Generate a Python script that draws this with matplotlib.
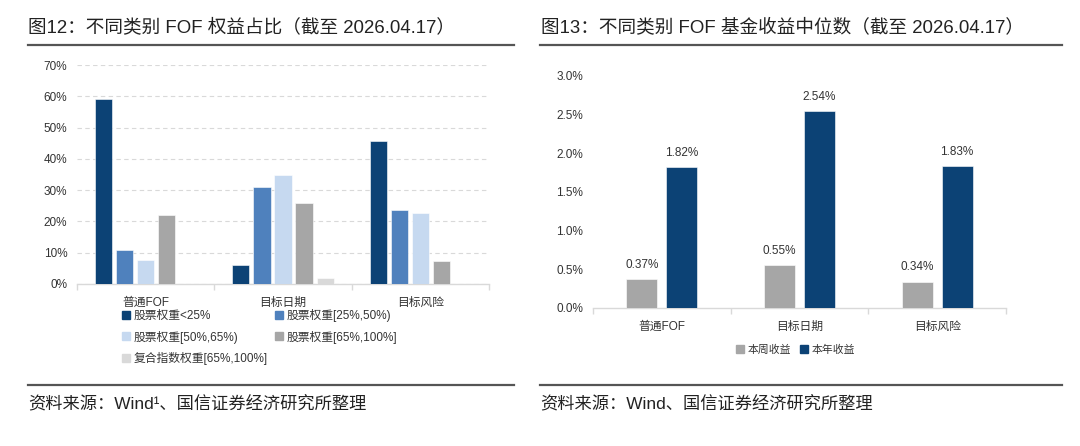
import matplotlib
matplotlib.use("Agg")
import matplotlib.pyplot as plt
from matplotlib.lines import Line2D
from matplotlib.ticker import FuncFormatter
import numpy as np

plt.rcParams['font.family'] = ['Liberation Sans', 'Noto Sans CJK SC', 'DejaVu Sans']

# ---------------- data ----------------
categories = ['普通FOF', '目标日期', '目标风险']

series_left_names = ['股票权重<25%', '股票权重[25%,50%)', '股票权重[50%,65%)',
                     '股票权重[65%,100%]', '复合指数权重[65%,100%]']
equity_lt25 = [59.1, 6.2, 45.8]
equity_25_50 = [10.8, 31.0, 23.5]
equity_50_65 = [7.8, 35.0, 22.8]
equity_65_100 = [22.0, 26.0, 7.3]
index_65_100 = [0.0, 2.0, 0.0]
left_series = [equity_lt25, equity_25_50, equity_50_65, equity_65_100, index_65_100]

right_names = ['本周收益', '本年收益']
week_ret = [0.37, 0.55, 0.34]
year_ret = [1.82, 2.54, 1.83]

left_yticks = [0, 10, 20, 30, 40, 50, 60, 70]
right_yticks = [0.0, 0.5, 1.0, 1.5, 2.0, 2.5, 3.0]

title_left = '图12：不同类别 FOF 权益占比（截至 2026.04.17）'
title_right = '图13：不同类别 FOF 基金收益中位数（截至 2026.04.17）'
source_left = '资料来源：Wind¹、国信证券经济研究所整理'
source_right = '资料来源：Wind、国信证券经济研究所整理'

# ---------------- style ----------------
W, H = 1080, 446
fig = plt.figure(figsize=(W / 100, H / 100), dpi=100)
fig.patch.set_facecolor('white')

left_colors = ['#0c4275', '#4f81bd', '#c6d9f0', '#a6a6a6', '#d9d9d9']
right_colors = ['#a6a6a6', '#0c4275']
axis_gray = '#d9d9d9'
text_col = '#333333'

def px_axes(x0, y0, x1, y1):
    return fig.add_axes([x0 / W, 1 - y1 / H, (x1 - x0) / W, (y1 - y0) / H])

def style_x(ax, n, ypad):
    for s in ['top', 'right', 'left']:
        ax.spines[s].set_visible(False)
    ax.spines['bottom'].set_color(axis_gray)
    ax.spines['bottom'].set_linewidth(1.0)
    ax.set_xlim(-0.5, n - 0.5)
    ax.set_xticks(range(n))
    ax.set_xticks(np.arange(-0.5, n, 1.0), minor=True)
    ax.tick_params(axis='x', which='major', length=0, pad=9, labelsize=8.5, labelcolor=text_col)
    ax.tick_params(axis='x', which='minor', length=4, color=axis_gray, width=1.0)
    ax.tick_params(axis='y', length=0, labelsize=8.5, labelcolor=text_col, pad=ypad)

# ---------------- left chart ----------------
axL = px_axes(77, 65, 489, 284)
n = len(categories)
x = np.arange(n)
bw = 0.124
step = 0.153
for i, (vals, col) in enumerate(zip(left_series, left_colors)):
    axL.bar(x + (i - 2) * step, vals, width=bw, color=col, edgecolor='white',
            linewidth=0.4, zorder=3, label=series_left_names[i])
axL.set_ylim(0, 70)
axL.set_yticks(left_yticks)
axL.yaxis.set_major_formatter(FuncFormatter(lambda v, p: f'{v:.0f}%'))
axL.grid(axis='y', color=axis_gray, linestyle=(0, (4, 3)), linewidth=0.8, zorder=0)
axL.set_axisbelow(True)
style_x(axL, n, 7)
axL.set_xticklabels(categories)

handles = [Line2D([], [], marker='s', linestyle='none', markersize=5.5,
                  color=c) for c in left_colors]
order = [0, 2, 4, 1, 3]
legL = axL.legend([handles[k] for k in order], [series_left_names[k] for k in order],
                  ncol=2, frameon=False, loc='upper left',
                  bbox_to_anchor=(121 / W, 1 - 309 / H), bbox_transform=fig.transFigure,
                  fontsize=8.5, handlelength=0.8, handletextpad=0.3, columnspacing=0.5,
                  labelspacing=0.72, borderaxespad=0, borderpad=0)
for t in legL.get_texts():
    t.set_color(text_col)

# ---------------- right chart ----------------
axR = px_axes(593, 75.7, 1006, 308)
rbw = 0.225
roff = 0.145
for vals, col, name, off in zip([week_ret, year_ret], right_colors, right_names, [-roff, roff]):
    bars = axR.bar(x + off, vals, width=rbw, color=col, edgecolor='white',
                   linewidth=0.4, zorder=3, label=name)
    for b, v in zip(bars, vals):
        axR.annotate(f'{v:.2f}%', (b.get_x() + b.get_width() / 2, v),
                     xytext=(0, 6), textcoords='offset points',
                     ha='center', va='bottom', fontsize=8.5, color=text_col)
axR.set_ylim(0, 3.0)
axR.set_yticks(right_yticks)
axR.yaxis.set_major_formatter(FuncFormatter(lambda v, p: f'{v:.1f}%'))
style_x(axR, n, 7)
axR.set_xticklabels(categories)

rh = [Line2D([], [], marker='s', linestyle='none', markersize=5.5, color=c) for c in right_colors]
legR = axR.legend(rh, right_names, ncol=2, frameon=False, loc='center',
                  bbox_to_anchor=(795 / W, 1 - 350 / H), bbox_transform=fig.transFigure,
                  fontsize=7.8, handlelength=0.8, handletextpad=0.3, columnspacing=0.8,
                  borderaxespad=0, borderpad=0)
for t in legR.get_texts():
    t.set_color(text_col)

# ---------------- titles, rules, sources ----------------
fig.text(28 / W, 1 - 27 / H, title_left, fontsize=13.4, color='#222222', va='center', ha='left')
fig.text(541 / W, 1 - 27 / H, title_right, fontsize=13.4, color='#222222', va='center', ha='left')

for (x0, x1) in [(28, 514), (540, 1062)]:
    for yy in [45, 385]:
        fig.add_artist(Line2D([x0 / W, x1 / W], [1 - yy / H, 1 - yy / H],
                              color='#555555', linewidth=1.6, transform=fig.transFigure))

fig.text(28 / W, 1 - 404 / H, source_left, fontsize=12.4, color='#222222', va='center', ha='left')
fig.text(540 / W, 1 - 404 / H, source_right, fontsize=12.4, color='#222222', va='center', ha='left')

fig.savefig('out.png', dpi=100, facecolor='white')
